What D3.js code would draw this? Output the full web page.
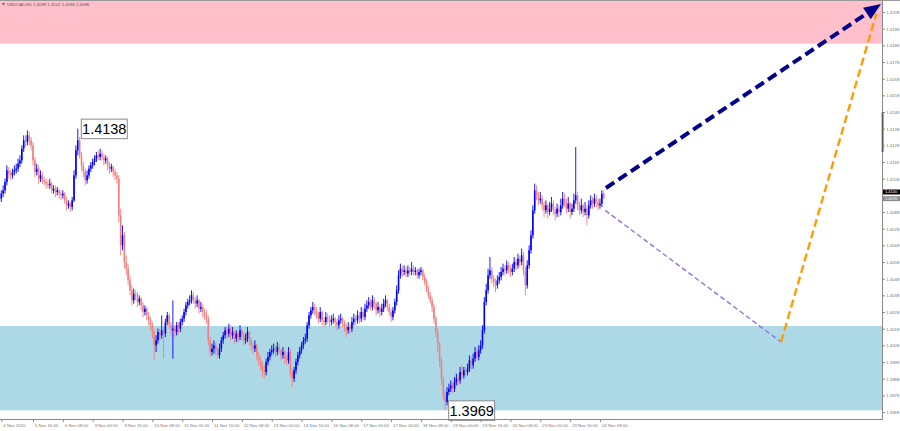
<!DOCTYPE html>
<html><head><meta charset="utf-8">
<script src="https://cdn.jsdelivr.net/npm/d3@7"></script>
<style>html,body{margin:0;padding:0;background:#fff;overflow:hidden}</style>
</head><body>
<svg id="chart" width="900" height="431"></svg>
<script>
// ---- DATA: USDCAD H1 candles, one array per trading day, each row [open, high, low, close]
const nov04 = [[1.4096,1.4101,1.4094,1.4099]];
const nov05 = [[1.4099,1.4104,1.4097,1.4101],[1.4101,1.4108,1.4099,1.4106],[1.4106,1.4116,1.4104,1.4113],[1.4113,1.4115,1.4108,1.4111],[1.4111,1.4113,1.4107,1.4110],[1.4110,1.4114,1.4108,1.4112],[1.4112,1.4116,1.4110,1.4113],[1.4113,1.4117,1.4111,1.4114],[1.4114,1.4120,1.4112,1.4117],[1.4117,1.4122,1.4115,1.4119],[1.4119,1.4128,1.4117,1.4126],[1.4126,1.4134,1.4124,1.4131],[1.4131,1.4134,1.4127,1.4130],[1.4130,1.4137,1.4128,1.4134],[1.4134,1.4136,1.4128,1.4131],[1.4131,1.4133,1.4125,1.4128],[1.4128,1.4130,1.4116,1.4119],[1.4119,1.4121,1.4109,1.4112],[1.4112,1.4117,1.4110,1.4114],[1.4114,1.4116,1.4105,1.4108],[1.4108,1.4113,1.4106,1.4110],[1.4110,1.4112,1.4105,1.4107],[1.4107,1.4109,1.4104,1.4106],[1.4106,1.4108,1.4102,1.4105]];
const nov06 = [[1.4105,1.4107,1.4102,1.4104],[1.4104,1.4108,1.4102,1.4105],[1.4105,1.4106,1.4099,1.4101],[1.4101,1.4104,1.4099,1.4102],[1.4102,1.4104,1.4097,1.4100],[1.4100,1.4103,1.4098,1.4101],[1.4101,1.4102,1.4096,1.4099],[1.4099,1.4101,1.4095,1.4098],[1.4098,1.4101,1.4096,1.4099],[1.4099,1.4100,1.4093,1.4095],[1.4095,1.4097,1.4089,1.4092],[1.4092,1.4095,1.4090,1.4093],[1.4093,1.4094,1.4088,1.4091],[1.4091,1.4097,1.4089,1.4095],[1.4095,1.4113,1.4094,1.4110],[1.4110,1.4128,1.4108,1.4125],[1.4125,1.4138,1.4122,1.4131],[1.4131,1.4133,1.4120,1.4122],[1.4122,1.4124,1.4113,1.4116],[1.4116,1.4118,1.4109,1.4112],[1.4112,1.4114,1.4104,1.4107],[1.4107,1.4113,1.4105,1.4110],[1.4110,1.4116,1.4108,1.4114],[1.4114,1.4118,1.4112,1.4116]];
const nov09 = [[1.4116,1.4120,1.4114,1.4118],[1.4118,1.4122,1.4116,1.4120],[1.4120,1.4124,1.4118,1.4122],[1.4122,1.4125,1.4119,1.4121],[1.4121,1.4126,1.4119,1.4123],[1.4123,1.4125,1.4119,1.4121],[1.4121,1.4123,1.4116,1.4119],[1.4119,1.4122,1.4117,1.4120],[1.4120,1.4121,1.4113,1.4116],[1.4116,1.4118,1.4111,1.4114],[1.4114,1.4117,1.4112,1.4115],[1.4115,1.4116,1.4109,1.4112],[1.4112,1.4114,1.4107,1.4110],[1.4110,1.4112,1.4105,1.4108],[1.4108,1.4110,1.4082,1.4086],[1.4086,1.4090,1.4062,1.4068],[1.4068,1.4080,1.4065,1.4074],[1.4074,1.4076,1.4054,1.4058],[1.4058,1.4062,1.4050,1.4054],[1.4054,1.4057,1.4044,1.4047],[1.4047,1.4050,1.4038,1.4041],[1.4041,1.4044,1.4032,1.4035],[1.4035,1.4042,1.4033,1.4039],[1.4039,1.4041,1.4035,1.4038]];
const nov10 = [[1.4038,1.4040,1.4031,1.4034],[1.4034,1.4038,1.4032,1.4036],[1.4036,1.4037,1.4029,1.4032],[1.4032,1.4034,1.4025,1.4028],[1.4028,1.4032,1.4026,1.4030],[1.4030,1.4031,1.4023,1.4026],[1.4026,1.4028,1.4020,1.4023],[1.4023,1.4025,1.4017,1.4020],[1.4020,1.4022,1.4012,1.4016],[1.4016,1.4018,1.3999,1.4008],[1.4008,1.4014,1.4004,1.4011],[1.4011,1.4018,1.4009,1.4016],[1.4016,1.4018,1.4011,1.4014],[1.4014,1.4026,1.4012,1.4017],[1.4017,1.4019,1.4000,1.4015],[1.4015,1.4024,1.4013,1.4022],[1.4022,1.4028,1.4020,1.4026],[1.4026,1.4027,1.4018,1.4020],[1.4020,1.4022,1.4014,1.4017],[1.4017,1.4035,1.4000,1.4018],[1.4018,1.4020,1.4013,1.4016],[1.4016,1.4022,1.4014,1.4020],[1.4020,1.4022,1.4015,1.4018],[1.4018,1.4024,1.4016,1.4022]];
const nov11 = [[1.4022,1.4026,1.4020,1.4024],[1.4024,1.4030,1.4022,1.4028],[1.4028,1.4034,1.4026,1.4032],[1.4032,1.4036,1.4030,1.4034],[1.4034,1.4038,1.4032,1.4035],[1.4035,1.4041,1.4033,1.4038],[1.4038,1.4040,1.4033,1.4035],[1.4035,1.4037,1.4030,1.4033],[1.4033,1.4038,1.4031,1.4035],[1.4035,1.4036,1.4027,1.4030],[1.4030,1.4034,1.4028,1.4031],[1.4031,1.4033,1.4025,1.4028],[1.4028,1.4030,1.4023,1.4026],[1.4026,1.4029,1.4021,1.4024],[1.4024,1.4026,1.4008,1.4011],[1.4011,1.4013,1.4001,1.4004],[1.4004,1.4009,1.4002,1.4006],[1.4006,1.4011,1.4003,1.4008],[1.4008,1.4010,1.4002,1.4005],[1.4005,1.4007,1.4000,1.4002],[1.4002,1.4009,1.4000,1.4006],[1.4006,1.4013,1.4004,1.4011],[1.4011,1.4016,1.4009,1.4014],[1.4014,1.4019,1.4012,1.4017]];
const nov12 = [[1.4017,1.4019,1.4012,1.4015],[1.4015,1.4021,1.4013,1.4018],[1.4018,1.4020,1.4011,1.4014],[1.4014,1.4019,1.4012,1.4016],[1.4016,1.4017,1.4009,1.4012],[1.4012,1.4017,1.4010,1.4015],[1.4015,1.4016,1.4010,1.4013],[1.4013,1.4020,1.4011,1.4017],[1.4017,1.4018,1.4011,1.4014],[1.4014,1.4016,1.4008,1.4011],[1.4011,1.4015,1.4009,1.4012],[1.4012,1.4019,1.4010,1.4016],[1.4016,1.4017,1.4008,1.4011],[1.4011,1.4013,1.4005,1.4008],[1.4008,1.4010,1.4003,1.4006],[1.4006,1.4011,1.4004,1.4008],[1.4008,1.4009,1.3999,1.4002],[1.4002,1.4004,1.3996,1.3999],[1.3999,1.4001,1.3993,1.3996],[1.3996,1.3998,1.3989,1.3993],[1.3993,1.3996,1.3988,1.3992],[1.3992,1.4000,1.3990,1.3998],[1.3998,1.4004,1.3996,1.4001],[1.4001,1.4006,1.3999,1.4004]];
const nov13 = [[1.4004,1.4008,1.4002,1.4005],[1.4005,1.4009,1.4003,1.4006],[1.4006,1.4008,1.4001,1.4004],[1.4004,1.4010,1.4002,1.4007],[1.4007,1.4009,1.4003,1.4005],[1.4005,1.4006,1.3999,1.4002],[1.4002,1.4007,1.4000,1.4004],[1.4004,1.4005,1.3997,1.4000],[1.4000,1.4002,1.3996,1.3999],[1.3999,1.4007,1.3997,1.4004],[1.4004,1.4006,1.3989,1.3992],[1.3992,1.3994,1.3983,1.3988],[1.3988,1.3995,1.3986,1.3993],[1.3993,1.4000,1.3991,1.3998],[1.3998,1.4004,1.3996,1.4002],[1.4002,1.4007,1.4000,1.4005],[1.4005,1.4010,1.4003,1.4008],[1.4008,1.4013,1.4006,1.4011],[1.4011,1.4015,1.4009,1.4012],[1.4012,1.4022,1.4010,1.4020],[1.4020,1.4028,1.4018,1.4026],[1.4026,1.4031,1.4024,1.4029],[1.4029,1.4034,1.4027,1.4031],[1.4031,1.4033,1.4026,1.4029]];
const nov16 = [[1.4029,1.4031,1.4024,1.4026],[1.4026,1.4028,1.4021,1.4024],[1.4024,1.4031,1.4022,1.4028],[1.4028,1.4029,1.4020,1.4023],[1.4023,1.4025,1.4019,1.4022],[1.4022,1.4028,1.4020,1.4025],[1.4025,1.4027,1.4021,1.4024],[1.4024,1.4026,1.4019,1.4022],[1.4022,1.4026,1.4020,1.4023],[1.4023,1.4027,1.4021,1.4024],[1.4024,1.4025,1.4019,1.4022],[1.4022,1.4024,1.4017,1.4020],[1.4020,1.4026,1.4018,1.4023],[1.4023,1.4027,1.4021,1.4024],[1.4024,1.4025,1.4019,1.4022],[1.4022,1.4023,1.4016,1.4019],[1.4019,1.4021,1.4013,1.4017],[1.4017,1.4022,1.4015,1.4019],[1.4019,1.4021,1.4015,1.4018],[1.4018,1.4025,1.4016,1.4022],[1.4022,1.4027,1.4020,1.4024],[1.4024,1.4026,1.4020,1.4023],[1.4023,1.4029,1.4021,1.4026],[1.4026,1.4028,1.4021,1.4024]];
const nov17 = [[1.4024,1.4031,1.4022,1.4028],[1.4028,1.4030,1.4023,1.4025],[1.4025,1.4033,1.4023,1.4030],[1.4030,1.4035,1.4028,1.4032],[1.4032,1.4037,1.4030,1.4034],[1.4034,1.4036,1.4029,1.4031],[1.4031,1.4038,1.4029,1.4035],[1.4035,1.4037,1.4030,1.4033],[1.4033,1.4034,1.4026,1.4029],[1.4029,1.4034,1.4027,1.4031],[1.4031,1.4032,1.4025,1.4028],[1.4028,1.4033,1.4026,1.4030],[1.4030,1.4036,1.4028,1.4033],[1.4033,1.4038,1.4031,1.4035],[1.4035,1.4036,1.4029,1.4031],[1.4031,1.4033,1.4026,1.4028],[1.4028,1.4030,1.4022,1.4025],[1.4025,1.4031,1.4023,1.4029],[1.4029,1.4036,1.4027,1.4034],[1.4034,1.4044,1.4032,1.4041],[1.4041,1.4053,1.4039,1.4050],[1.4050,1.4057,1.4048,1.4054],[1.4054,1.4056,1.4049,1.4052],[1.4052,1.4056,1.4050,1.4053]];
const nov18 = [[1.4053,1.4055,1.4049,1.4051],[1.4051,1.4056,1.4049,1.4053],[1.4053,1.4055,1.4050,1.4052],[1.4052,1.4058,1.4050,1.4054],[1.4054,1.4056,1.4050,1.4052],[1.4052,1.4055,1.4050,1.4053],[1.4053,1.4054,1.4048,1.4050],[1.4050,1.4054,1.4048,1.4052],[1.4052,1.4055,1.4050,1.4053],[1.4053,1.4054,1.4047,1.4049],[1.4049,1.4051,1.4044,1.4046],[1.4046,1.4048,1.4040,1.4042],[1.4042,1.4044,1.4036,1.4038],[1.4038,1.4040,1.4033,1.4035],[1.4035,1.4037,1.4028,1.4031],[1.4031,1.4033,1.4021,1.4024],[1.4024,1.4026,1.4013,1.4016],[1.4016,1.4018,1.4004,1.4008],[1.4008,1.4010,1.3995,1.3999],[1.3999,1.4001,1.3984,1.3988],[1.3988,1.3990,1.3975,1.3978],[1.3978,1.3981,1.3969,1.3974],[1.3974,1.3983,1.3972,1.3980],[1.3980,1.3985,1.3978,1.3982]];
const nov19 = [[1.3982,1.3987,1.3980,1.3984],[1.3984,1.3986,1.3979,1.3982],[1.3982,1.3989,1.3980,1.3986],[1.3986,1.3991,1.3984,1.3988],[1.3988,1.3990,1.3984,1.3987],[1.3987,1.3995,1.3985,1.3992],[1.3992,1.3996,1.3988,1.3990],[1.3990,1.3995,1.3988,1.3993],[1.3993,1.3995,1.3989,1.3992],[1.3992,1.3997,1.3990,1.3994],[1.3994,1.4002,1.3992,1.3999],[1.3999,1.4001,1.3993,1.3996],[1.3996,1.4003,1.3994,1.4000],[1.4000,1.4007,1.3998,1.4004],[1.4004,1.4006,1.3999,1.4001],[1.4001,1.4008,1.3999,1.4005],[1.4005,1.4011,1.4003,1.4008],[1.4008,1.4020,1.4006,1.4017],[1.4017,1.4037,1.4015,1.4034],[1.4034,1.4045,1.4032,1.4041],[1.4041,1.4054,1.4039,1.4050],[1.4050,1.4061,1.4048,1.4053],[1.4053,1.4055,1.4045,1.4048],[1.4048,1.4050,1.4043,1.4046]];
const nov20 = [[1.4046,1.4048,1.4040,1.4044],[1.4044,1.4050,1.4042,1.4047],[1.4047,1.4052,1.4045,1.4049],[1.4049,1.4055,1.4047,1.4052],[1.4052,1.4057,1.4050,1.4054],[1.4054,1.4056,1.4050,1.4053],[1.4053,1.4059,1.4051,1.4056],[1.4056,1.4058,1.4051,1.4054],[1.4054,1.4056,1.4049,1.4052],[1.4052,1.4057,1.4050,1.4054],[1.4054,1.4061,1.4052,1.4058],[1.4058,1.4060,1.4053,1.4056],[1.4056,1.4063,1.4054,1.4060],[1.4060,1.4062,1.4055,1.4058],[1.4058,1.4066,1.4056,1.4062],[1.4062,1.4064,1.4050,1.4053],[1.4053,1.4055,1.4038,1.4044],[1.4044,1.4059,1.4042,1.4056],[1.4056,1.4068,1.4054,1.4065],[1.4065,1.4077,1.4063,1.4074],[1.4074,1.4092,1.4072,1.4089],[1.4089,1.4105,1.4087,1.4101],[1.4101,1.4104,1.4095,1.4098],[1.4098,1.4100,1.4092,1.4095]];
const nov23 = [[1.4095,1.4100,1.4093,1.4096],[1.4096,1.4098,1.4089,1.4092],[1.4092,1.4094,1.4085,1.4089],[1.4089,1.4095,1.4087,1.4092],[1.4092,1.4093,1.4084,1.4088],[1.4088,1.4094,1.4086,1.4090],[1.4090,1.4097,1.4088,1.4093],[1.4093,1.4095,1.4086,1.4089],[1.4089,1.4091,1.4083,1.4087],[1.4087,1.4093,1.4085,1.4090],[1.4090,1.4092,1.4085,1.4088],[1.4088,1.4096,1.4086,1.4092],[1.4092,1.4100,1.4090,1.4096],[1.4096,1.4099,1.4091,1.4094],[1.4094,1.4096,1.4087,1.4090],[1.4090,1.4097,1.4088,1.4093],[1.4093,1.4094,1.4084,1.4088],[1.4088,1.4093,1.4086,1.4090],[1.4090,1.4099,1.4088,1.4095],[1.4095,1.4127,1.4093,1.4098],[1.4098,1.4100,1.4089,1.4092],[1.4092,1.4094,1.4086,1.4089],[1.4089,1.4096,1.4087,1.4092],[1.4092,1.4093,1.4085,1.4088]];
const nov24 = [[1.4088,1.4094,1.4086,1.4090],[1.4090,1.4092,1.4080,1.4086],[1.4086,1.4095,1.4084,1.4092],[1.4092,1.4098,1.4090,1.4095],[1.4095,1.4097,1.4090,1.4093],[1.4093,1.4099,1.4091,1.4096],[1.4096,1.4098,1.4091,1.4094],[1.4094,1.4096,1.4089,1.4092],[1.4092,1.4096,1.4090,1.4093],[1.4093,1.4101,1.4091,1.4099],[1.4099,1.4101,1.4096,1.4096]];

// price-scale labels visible on the right (the 1.4098 one is hidden under the quote boxes)
const priceTicks = [1.4208,1.4198,1.4188,1.4178,1.4168,1.4158,1.4148,1.4138,1.4128,1.4118,1.4108,1.4088,1.4078,1.4068,1.4058,1.4048,1.4038,1.4028,1.4018,1.4008,1.3998,1.3988,1.3978,1.3968];
const timeLabels = ["4 Nov 2020","5 Nov 16:00","6 Nov 08:00","9 Nov 00:00","9 Nov 16:00","10 Nov 08:00","11 Nov 00:00","11 Nov 16:00","12 Nov 08:00","13 Nov 00:00","13 Nov 16:00","16 Nov 08:00","17 Nov 00:00","17 Nov 16:00","18 Nov 08:00","19 Nov 00:00","19 Nov 16:00","20 Nov 08:00","23 Nov 00:00","23 Nov 16:00","24 Nov 08:00"];
const timeLabelBars = [0,17,33,49,65,81,97,113,129,145,161,177,193,209,225,241,257,273,289,305,321];

const resistanceZone = [1.4189, 1.4220];
const supportZone = [1.3969, 1.40196];

const extremeBars = [41, 238];
const extremePrices = [1.4138, 1.3969];
const extremeTexts = ["1.4138", "1.3969"];

const mainWaveBars = [324.2, 471.7];
const mainWavePrices = [1.41024, 1.42128];
const altWaveBars = [323.8, 418.1, 469.2];
const altWavePrices = [1.40890, 1.40100, 1.42070];

const quoteTitle = "USDCAD,H1  1.4099 1.4101 1.4096 1.4096";
const axisQuotes = [1.4100, 1.4096];

// ---- DRAWING
const W = 900, H = 431, plotRight = 882, plotBottom = 419;
const bull = "#0000FF", bear = "#F08080";
const svg = d3.select("#chart");
svg.append("rect").attr("width", W).attr("height", H).attr("fill", "#fff");

const days = [nov04, nov05, nov06, nov09, nov10, nov11, nov12, nov13, nov16, nov17, nov18, nov19, nov20, nov23, nov24];
const candles = days.flat().map((d, i) => ({i, o: d[0], h: d[1], l: d[2], c: d[3]}));

const x = d3.scaleLinear().domain([0, candles.length - 1]).range([1.3, 603.7]);
const y = d3.scaleLinear().domain([1.3968, 1.4208]).range([412, 12]);

svg.append("defs").append("clipPath").attr("id", "plotClip")
  .append("rect").attr("x", 0).attr("y", 1).attr("width", plotRight).attr("height", plotBottom - 1);
const plot = svg.append("g").attr("clip-path", "url(#plotClip)");

plot.append("rect").attr("x", 0).attr("width", plotRight)
  .attr("y", y(resistanceZone[1])).attr("height", y(resistanceZone[0]) - y(resistanceZone[1]))
  .attr("fill", "#FFC0CB");
plot.append("rect").attr("x", 0).attr("width", plotRight)
  .attr("y", y(supportZone[1])).attr("height", y(supportZone[0]) - y(supportZone[1]))
  .attr("fill", "#ADD8E6");

const cg = plot.append("g");
cg.selectAll("line").data(candles).join("line")
  .attr("x1", d => x(d.i)).attr("x2", d => x(d.i))
  .attr("y1", d => y(d.h)).attr("y2", d => y(d.l))
  .attr("stroke", d => d.c >= d.o ? bull : bear).attr("stroke-width", 0.9);
cg.selectAll("rect").data(candles).join("rect")
  .attr("x", d => x(d.i) - 0.8).attr("width", 1.6)
  .attr("y", d => y(Math.max(d.o, d.c)))
  .attr("height", d => Math.max(0.8, Math.abs(y(d.o) - y(d.c))))
  .attr("fill", d => d.c >= d.o ? bull : bear);

// forecast lines
const pts = (bars, prices) => bars.map((b, i) => [x(b), y(prices[i])]);
const alt = pts(altWaveBars, altWavePrices);
plot.append("line").attr("x1", alt[0][0]).attr("y1", alt[0][1]).attr("x2", alt[1][0]).attr("y2", alt[1][1])
  .attr("stroke", "#9370DB").attr("stroke-width", 1.4).attr("stroke-dasharray", "5,3");
plot.append("line").attr("x1", alt[1][0]).attr("y1", alt[1][1]).attr("x2", alt[2][0]).attr("y2", alt[2][1])
  .attr("stroke", "#FF9C00").attr("stroke-width", 2.4).attr("stroke-dasharray", "8,4");

const mw = pts(mainWaveBars, mainWavePrices);
const dx = mw[1][0] - mw[0][0], dy = mw[1][1] - mw[0][1], len = Math.hypot(dx, dy);
const ux = dx / len, uy = dy / len, headL = 17, headW = 7;
const base = [mw[1][0] - ux * headL, mw[1][1] - uy * headL];
svg.append("line").attr("x1", mw[0][0]).attr("y1", mw[0][1]).attr("x2", base[0] + ux * 2).attr("y2", base[1] + uy * 2)
  .attr("stroke", "#00008B").attr("stroke-width", 4).attr("stroke-dasharray", "10,5");
svg.append("polygon")
  .attr("points", [[mw[1][0], mw[1][1]], [base[0] - uy * headW, base[1] + ux * headW], [base[0] + uy * headW, base[1] - ux * headW]].map(p => p.join(",")).join(" "))
  .attr("fill", "#00008B");

// extreme labels
extremeBars.forEach((b, i) => {
  const px = x(b) + 3, py = y(extremePrices[i]);
  svg.append("rect").attr("x", px + 0.5).attr("y", py - 9.5).attr("width", 46).attr("height", 19.5)
    .attr("fill", "#fff").attr("stroke", "#8a8a8a").attr("stroke-width", 1);
  svg.append("text").attr("x", px + 23.5).attr("y", py + 5.3).attr("text-anchor", "middle")
    .attr("font-family", "Liberation Sans, Arial, sans-serif").attr("font-size", 14.5).attr("fill", "#000")
    .text(extremeTexts[i]);
});

// frame
svg.append("line").attr("x1", 0).attr("x2", W).attr("y1", 0.5).attr("y2", 0.5).attr("stroke", "#9a9a9a");
svg.append("line").attr("x1", plotRight + 0.5).attr("x2", plotRight + 0.5).attr("y1", 0).attr("y2", plotBottom + 0.5).attr("stroke", "#888");
svg.append("line").attr("x1", 0).attr("x2", plotRight + 0.5).attr("y1", plotBottom + 0.5).attr("y2", plotBottom + 0.5).attr("stroke", "#888");
svg.append("rect").attr("x", plotRight - 0.3).attr("y", 112).attr("width", 1.8).attr("height", 40).attr("fill", "#555");

// right price axis
const yAxis = d3.axisRight(y).tickValues(priceTicks).tickFormat(d3.format(".4f")).tickSize(2.5).tickPadding(1.2).tickSizeOuter(0);
const ya = svg.append("g").attr("transform", `translate(${plotRight + 0.5},0)`).call(yAxis);
ya.select(".domain").remove();
ya.selectAll("line").attr("stroke", "#888");
ya.selectAll("text").attr("font-family", "Liberation Sans, Arial, sans-serif").attr("font-size", 4.3).attr("fill", "#777");

// bottom time axis
const xAxis = d3.axisBottom(x).tickValues(timeLabelBars).tickFormat((d, i) => timeLabels[i]).tickSize(2.5).tickSizeOuter(0);
const xa = svg.append("g").attr("transform", `translate(0,${plotBottom + 0.5})`).call(xAxis);
xa.select(".domain").remove();
xa.selectAll("line").attr("stroke", "#888");
xa.selectAll("text").attr("text-anchor", "start").attr("dx", 1.5).attr("y", 4).attr("dy", "0.71em")
  .attr("font-family", "Liberation Sans, Arial, sans-serif").attr("font-size", 4.3).attr("fill", "#777");

// quote boxes on axis
axisQuotes.forEach((q, i) => {
  svg.append("rect").attr("x", plotRight + 1).attr("y", y(q) - 2.5).attr("width", 17).attr("height", 5)
    .attr("fill", i === 0 ? "#000" : "#8c8c8c");
  svg.append("text").attr("x", plotRight + 3).attr("y", y(q) + 1.4)
    .attr("font-family", "Liberation Sans, Arial, sans-serif").attr("font-size", 4).attr("fill", "#fff")
    .text(d3.format(".4f")(q));
});

// title
svg.append("path").attr("d", "M2,3.2 L5,3.2 L3.5,5.2 Z").attr("fill", "#444");
svg.append("text").attr("x", 7).attr("y", 5.5).attr("font-family", "Liberation Sans, Arial, sans-serif")
  .attr("font-size", 4.3).attr("fill", "#555").text(quoteTitle);
</script>
</body></html>
